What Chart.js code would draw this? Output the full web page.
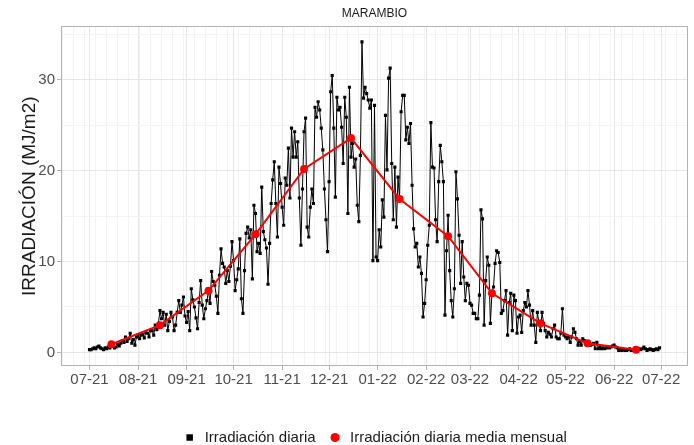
<!DOCTYPE html>
<html lang="es">
<head>
<meta charset="UTF-8">
<title>MARAMBIO - Irradiación diaria</title>
<script src="https://cdn.jsdelivr.net/npm/chart.js@4"></script>
<style>
  body { margin: 0; background: #fff; }
  #wrap { width: 694px; height: 445px; }
</style>
</head>
<body>
<div id="wrap"><canvas id="chart" width="694" height="445"></canvas></div>
<script>
// Irradiación diaria (MJ/m2), un array por mes, desde 2021-07-01
const jul21 = [0.3,0.3,0.4,0.5,0.4,0.6,0.7,0.5,0.4,0.3,0.5,0.4,0.6,0.5,0.8,0.7,0.5,0.6,0.9,0.7,1.0,1.3,1.1,1.7,1.2,1.5,2.1,1.0,1.4,0.8,1.7];
const aug21 = [1.9,1.5,1.9,2.0,1.6,2.2,2.1,1.7,2.4,2.4,1.9,3.0,2.5,3.2,4.6,3.7,4.4,3.0,4.2,2.4,3.4,4.4,3.9,2.4,3.0,4.4,5.7,4.4,5.2,6.1,4.0];
const sep21 = [3.3,4.5,2.4,7.0,5.8,5.0,3.8,2.6,5.5,7.9,5.2,3.7,4.8,5.7,6.8,5.4,8.9,7.8,7.4,6.2,4.3,8.5,11.4,9.8,9.4,7.6,9.0,7.8,9.5,12.2];
const oct21 = [10.1,6.8,8.0,9.2,12.5,5.9,4.3,9.0,13.1,13.8,12.6,13.5,8.1,16.2,15.3,11.1,12.0,10.9,18.2,13.3,12.4,11.5,7.5,12.0,16.4,19.0,21.0,16.4,12.7,20.4,18.6];
const nov21 = [16.0,14.0,19.2,18.4,22.5,17.0,24.7,21.5,24.3,21.5,23.2,17.0,11.8,18.0,24.3,25.8,13.8,12.7,16.0,18.0,16.4,27.0,25.9,27.6,26.7,24.7,22.3,18.0,14.6,11.1];
const dec21 = [18.8,28.7,30.5,24.7,17.1,28.1,26.7,27.0,24.8,20.8,28.1,25.9,15.3,29.2,21.5,23.0,20.4,21.3,16.2,14.4,21.7,34.2,28.0,29.2,28.5,27.8,26.9,27.8,10.1,27.2,10.5];
const jan22 = [10.1,13.5,11.6,16.8,14.9,26.1,20.1,30.2,31.3,20.8,14.6,20.4,13.8,19.3,16.9,26.5,28.3,28.3,23.4,24.8,23.0,25.2,18.4,13.6,11.6,12.0,9.4,10.5,8.7,3.9,5.4];
const feb22 = [8.0,11.8,14.0,25.3,20.4,20.3,14.6,12.2,18.8,22.8,21.0,18.8,4.1,11.2,15.1,9.0,5.7,3.9,7.0,19.9,16.9,12.9,7.6,12.2,8.3,5.7,7.6,7.4];
const mar22 = [5.4,5.2,4.3,4.3,3.7,3.7,6.3,15.7,14.7,3.0,7.9,10.5,9.6,3.2,6.5,7.2,9.8,11.2,11.0,9.9,4.3,4.6,5.7,6.8,1.9,5.5,6.5,2.4,6.3,5.7,2.1];
const apr22 = [3.9,4.1,2.2,4.6,5.5,5.0,6.8,5.2,3.0,4.6,3.0,1.1,4.4,3.3,2.4,4.4,3.2,2.4,1.7,2.2,2.0,1.7,2.6,3.0,1.7,1.5,1.5,2.1,4.8,1.9];
const may22 = [1.7,1.5,1.7,1.1,1.7,2.6,2.2,1.5,0.8,1.2,0.8,1.5,1.3,1.1,0.9,1.1,0.8,0.9,1.0,0.4,1.1,0.4,0.6,0.4,0.5,0.4,0.5,0.6,0.5,0.6,0.7];
const jun22 = [0.8,0.6,0.5,0.2,0.3,0.2,0.3,0.2,0.2,0.3,0.4,0.2,0.3,0.2,0.3,0.2,0.4,0.3,0.4,0.6,0.4,0.2,0.3,0.4,0.3,0.2,0.3,0.4,0.3,0.5];

// Media mensual (día 15 de cada mes)
const meanDates = ['2021-07-15','2021-08-15','2021-09-15','2021-10-15','2021-11-15','2021-12-15',
                   '2022-01-15','2022-02-15','2022-03-15','2022-04-15','2022-05-15','2022-06-15'];
const meanValues = [0.9, 3.0, 6.8, 13.0, 20.2, 23.6, 16.9, 12.8, 6.5, 3.2, 1.0, 0.3];

// Eje x: etiquetas mensuales
const monthStarts = ['2021-07-01','2021-08-01','2021-09-01','2021-10-01','2021-11-01','2021-12-01',
                     '2022-01-01','2022-02-01','2022-03-01','2022-04-01','2022-05-01','2022-06-01','2022-07-01'];
const monthLabels = ['07-21','08-21','09-21','10-21','11-21','12-21','01-22','02-22','03-22','04-22','05-22','06-22','07-22'];
const firstMonday = '2021-06-14';   // líneas menores semanales
const yMajor = [0, 10, 20, 30];

const startDate = '2021-07-01';
const dayOf = s => (Date.parse(s) - Date.parse(startDate)) / 864e5;

const daily = [].concat(jul21, aug21, sep21, oct21, nov21, dec21, jan22, feb22, mar22, apr22, may22, jun22);
const dailyPoints = daily.map((v, i) => ({ x: i, y: v }));
const meanPoints = meanDates.map((d, i) => ({ x: dayOf(d), y: meanValues[i] }));

// rango con expansión del 5% (como ggplot)
const xPad = (daily.length - 1) * 0.05;
const xMin = -xPad, xMax = daily.length - 1 + xPad;
const yLo = Math.min(...daily), yHi = Math.max(...daily);
const yPad = (yHi - yLo) * 0.05;

const majorX = new Map(monthStarts.map((d, i) => [dayOf(d), monthLabels[i]]));
const xTicks = [...majorX.keys()];
for (let d = dayOf(firstMonday); d <= xMax; d += 7) {
    if (!majorX.has(d)) xTicks.push(d);
}
xTicks.sort((a, b) => a - b);
const yTicks = [];
for (let v = 0; v <= yHi + yPad; v += 5) yTicks.push(v);

Chart.defaults.font.family = "'Liberation Sans', Arial, sans-serif";

const panelBorder = {
    id: 'panelBorder',
    beforeDatasetsDraw(chart) {
        const { ctx, chartArea: a } = chart;
        ctx.save();
        ctx.strokeStyle = '#b3b3b3';
        ctx.lineWidth = 1;
        ctx.strokeRect(Math.round(a.left) + 0.5, Math.round(a.top) + 0.5,
                       Math.round(a.width) - 1, Math.round(a.height) - 1);
        ctx.restore();
    }
};

new Chart(document.getElementById('chart'), {
    type: 'line',
    data: {
        datasets: [
            {
                label: 'Irradiación diaria',
                data: dailyPoints,
                borderColor: '#000',
                backgroundColor: '#000',
                borderWidth: 1,
                pointStyle: 'rect',
                pointRadius: 2.2,
                pointBorderWidth: 0,
                tension: 0,
                order: 1
            },
            {
                label: 'Irradiación diaria media mensual',
                data: meanPoints,
                borderColor: '#ff0000',
                backgroundColor: '#ff0000',
                borderWidth: 2,
                pointStyle: 'circle',
                pointRadius: 4,
                pointBorderWidth: 0,
                tension: 0,
                order: 0
            }
        ]
    },
    options: {
        responsive: false,
        animation: false,
        layout: { padding: { left: 0, right: 6, top: 0, bottom: -10 } },
        plugins: {
            tooltip: { enabled: false },
            title: {
                display: true,
                text: 'MARAMBIO',
                fullSize: false,
                color: '#1a1a1a',
                font: { size: 12, weight: 'normal' },
                padding: { top: 6, bottom: 6 }
            },
            legend: {
                position: 'bottom',
                fullSize: false,
                labels: {
                    usePointStyle: true,
                    boxHeight: 6.5,
                    padding: 12,
                    color: '#1a1a1a',
                    font: { size: 15 },
                    sort: (a, b) => a.datasetIndex - b.datasetIndex,
                    generateLabels(chart) {
                        const items = Chart.defaults.plugins.legend.labels.generateLabels(chart);
                        items.forEach(it => { it.lineWidth = 0; });
                        return items;
                    }
                }
            }
        },
        scales: {
            x: {
                type: 'linear',
                min: xMin,
                max: xMax,
                afterBuildTicks: s => { s.ticks = xTicks.map(v => ({ value: v })); },
                afterFit: s => { s.height = 52; },
                ticks: {
                    autoSkip: false,
                    maxRotation: 0,
                    padding: 1,
                    color: '#4d4d4d',
                    font: { size: 15 },
                    callback: v => majorX.get(v) || ''
                },
                grid: {
                    color: c => majorX.has(c.tick.value) ? '#e6e6e6' : '#f3f3f3',
                    tickColor: c => majorX.has(c.tick.value) ? '#b3b3b3' : 'rgba(0,0,0,0)',
                    tickLength: 4
                },
                border: { display: false }
            },
            y: {
                min: yLo - yPad,
                max: yHi + yPad,
                afterBuildTicks: s => { s.ticks = yTicks.map(v => ({ value: v })); },
                afterFit: s => { s.width = 61; },
                ticks: {
                    padding: 2,
                    color: '#4d4d4d',
                    font: { size: 15 },
                    callback: v => yMajor.includes(v) ? String(v) : ''
                },
                grid: {
                    color: c => yMajor.includes(c.tick.value) ? '#e6e6e6' : '#f3f3f3',
                    tickColor: c => yMajor.includes(c.tick.value) ? '#b3b3b3' : 'rgba(0,0,0,0)',
                    tickLength: 4
                },
                border: { display: false },
                title: {
                    display: true,
                    text: 'IRRADIACIÓN (MJ/m2)',
                    color: '#1a1a1a',
                    font: { size: 19 },
                    padding: { top: 18, bottom: 0 }
                }
            }
        }
    },
    plugins: [panelBorder]
});
</script>
</body>
</html>
